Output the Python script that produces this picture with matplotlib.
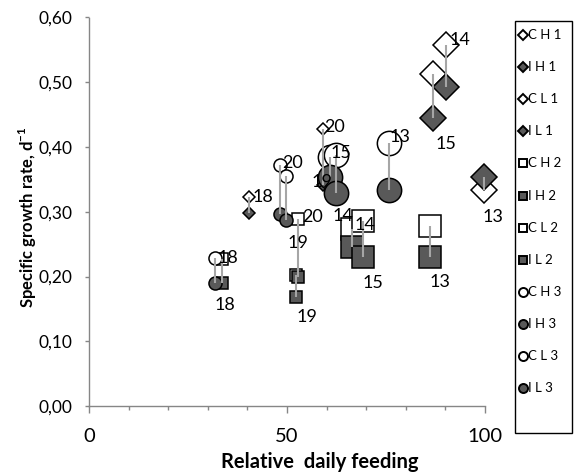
import matplotlib
matplotlib.use("Agg")
import matplotlib.pyplot as plt
from matplotlib.lines import Line2D
from matplotlib.patches import Rectangle
from matplotlib.ticker import MultipleLocator, FuncFormatter

plt.rcParams['font.family'] = ['Lato', 'DejaVu Sans']
plt.rcParams['mathtext.fontset'] = 'custom'
plt.rcParams['mathtext.rm'] = 'Lato'
plt.rcParams['mathtext.bf'] = 'Lato:bold'

# ---- data: relative daily feeding (x) and specific growth rate (y) ----
ch1_x = [40.3, 59.1]
ch1_y = [0.323, 0.428]
ih1_x = [40.3, 59.1]
ih1_y = [0.298, 0.342]

cl1_x = [86.9, 90.2, 99.7]
cl1_y = [0.513, 0.558, 0.333]
il1_x = [86.9, 90.2, 99.7]
il1_y = [0.445, 0.493, 0.354]

ch2_x = [33.6, 52.3, 52.8]
ch2_y = [0.227, 0.203, 0.289]
ih2_x = [33.6, 52.3, 52.8]
ih2_y = [0.190, 0.168, 0.199]

cl2_x = [66.5, 69.2, 86.1]
cl2_y = [0.274, 0.286, 0.278]
il2_x = [66.5, 69.2, 86.1]
il2_y = [0.246, 0.230, 0.230]

ch3_x = [31.8, 48.2, 49.7]
ch3_y = [0.229, 0.372, 0.355]
ih3_x = [31.8, 48.2, 49.7]
ih3_y = [0.190, 0.297, 0.287]

cl3_x = [60.9, 62.4, 75.8]
cl3_y = [0.385, 0.388, 0.406]
il3_x = [60.9, 62.4, 75.8]
il3_y = [0.354, 0.329, 0.334]

legend_labels = ["C H 1", "I H 1", "C L 1", "I L 1",
                 "C H 2", "I H 2", "C L 2", "I L 2",
                 "C H 3", "I H 3", "C L 3", "I L 3"]

# temperature labels attached to points: (series, index, text, dx px, dy px down)
point_labels = [
    ("CH1", 0, "18", 14, 0),
    ("CH3", 0, "18", 13, 0),
    ("IH3", 0, "18", 10, 22),
    ("CH1", 1, "20", 12, -2),
    ("CH3", 1, "20", 13, -2),
    ("CH2", 2, "20", 14, -2),
    ("IH3", 2, "19", 12, 23),
    ("IH2", 1, "19", 11, 20),
    ("IL3", 0, "19", -8, 5),
    ("CL3", 0, "15", 11, -4),
    ("CL2", 0, "14", -9, -13),
    ("CL2", 1, "14", 2, 4),
    ("IL2", 1, "15", 10, 26),
    ("IL2", 2, "13", 10, 25),
    ("IL1", 0, "15", 13, 26),
    ("CL1", 1, "14", 14, -5),
    ("CL1", 2, "13", 9, 27),
    ("CL3", 2, "13", 11, -6),
]

DARK = "#595959"
GREY_LINE = "#A6A6A6"
AXIS = "#868686"

# marker style per series: (x, y, marker, size, face)
series = {
    "CH1": (ch1_x, ch1_y, "D", 6.4, "white"),
    "IH1": (ih1_x, ih1_y, "D", 6.4, DARK),
    "CL1": (cl1_x, cl1_y, "D", 13.0, "white"),
    "IL1": (il1_x, il1_y, "D", 13.0, DARK),
    "CH2": (ch2_x, ch2_y, "s", 8.4, "white"),
    "IH2": (ih2_x, ih2_y, "s", 8.4, DARK),
    "CL2": (cl2_x, cl2_y, "s", 15.5, "white"),
    "IL2": (il2_x, il2_y, "s", 15.5, DARK),
    "CH3": (ch3_x, ch3_y, "o", 9.4, "white"),
    "IH3": (ih3_x, ih3_y, "o", 9.4, DARK),
    "CL3": (cl3_x, cl3_y, "o", 17.5, "white"),
    "IL3": (il3_x, il3_y, "o", 17.5, DARK),
}
order = ["CH1", "IH1", "CL1", "IL1", "CH2", "IH2", "CL2", "IL2",
         "CH3", "IH3", "CL3", "IL3"]
pairs = [("CH1", "IH1"), ("CL1", "IL1"), ("CH2", "IH2"), ("CL2", "IL2"),
         ("CH3", "IH3"), ("CL3", "IL3")]

W, H = 574, 473
fig = plt.figure(figsize=(W / 100, H / 100), dpi=100)
left, right, top, bottom = 89, 485, 17.5, 406
ax = fig.add_axes([left / W, 1 - bottom / H, (right - left) / W, (bottom - top) / H])

for z, name in enumerate(order):
    x, y, m, ms, fc = series[name]
    ax.plot(x, y, linestyle="none", marker=m, markersize=ms,
            markerfacecolor=fc, markeredgecolor="black", markeredgewidth=1.1,
            zorder=3 + z * 0.01, clip_on=False)

# vertical connectors between control and treatment values
for c, i in pairs:
    cx, cy = series[c][0], series[c][1]
    iy = series[i][1]
    ax.vlines(cx, cy, iy, colors=GREY_LINE, linewidth=1.5, zorder=5)

for name, idx, txt, dx, dy in point_labels:
    x, y = series[name][0][idx], series[name][1][idx]
    ax.annotate(txt, (x, y), xytext=(dx * 0.72, -dy * 0.72),
                textcoords="offset points", ha="center", va="center",
                fontsize=13, color="black", zorder=6, annotation_clip=False)

ax.set_xlim(0, 100)
ax.set_ylim(0, 0.6)
ax.xaxis.set_major_locator(MultipleLocator(50))
ax.xaxis.set_minor_locator(MultipleLocator(10))
ax.yaxis.set_major_locator(MultipleLocator(0.1))
ax.yaxis.set_major_formatter(FuncFormatter(lambda v, p: f"{v:.2f}".replace(".", ",")))

for s in ["top", "right"]:
    ax.spines[s].set_visible(False)
for s in ["left", "bottom"]:
    ax.spines[s].set_color(AXIS)
    ax.spines[s].set_linewidth(1.0)

ax.tick_params(axis="x", which="major", length=5, width=1, color=AXIS,
               labelsize=14.5, pad=11)
ax.tick_params(axis="x", which="minor", length=3, width=1, color=AXIS)
ax.tick_params(axis="y", which="major", length=3, width=1, color=AXIS,
               labelsize=12.5, pad=9)

fig.text(28 / W, 1 - 217 / H, r"Specific growth rate, d$^{\mathbf{-1}}$",
         rotation=90, ha="center", va="center", fontsize=12, fontweight="bold")
fig.text(320 / W, 1 - 462 / H, "Relative  daily feeding",
         ha="center", va="center", fontsize=14.5, fontweight="bold")

# legend box drawn in figure pixels
lx0, lx1, ly0, ly1 = 515, 572, 21, 433
fig.add_artist(Rectangle((lx0 / W, 1 - ly1 / H), (lx1 - lx0) / W, (ly1 - ly0) / H,
                         transform=fig.transFigure, facecolor="white",
                         edgecolor="black", linewidth=1.0))
leg_sizes = {"D": 5.0, "s": 6.0, "o": 6.5}
for k, name in enumerate(order):
    ypx = 35 + k * 32.1
    _, _, m, _, fc = series[name]
    fig.add_artist(Line2D([523 / W], [1 - ypx / H], transform=fig.transFigure,
                          linestyle="none", marker=m, markersize=leg_sizes[m],
                          markerfacecolor=fc, markeredgecolor="black",
                          markeredgewidth=1.4))
    fig.text(528 / W, 1 - ypx / H, legend_labels[k], ha="left", va="center",
             fontsize=9.5)

fig.savefig("out.png", dpi=100)
